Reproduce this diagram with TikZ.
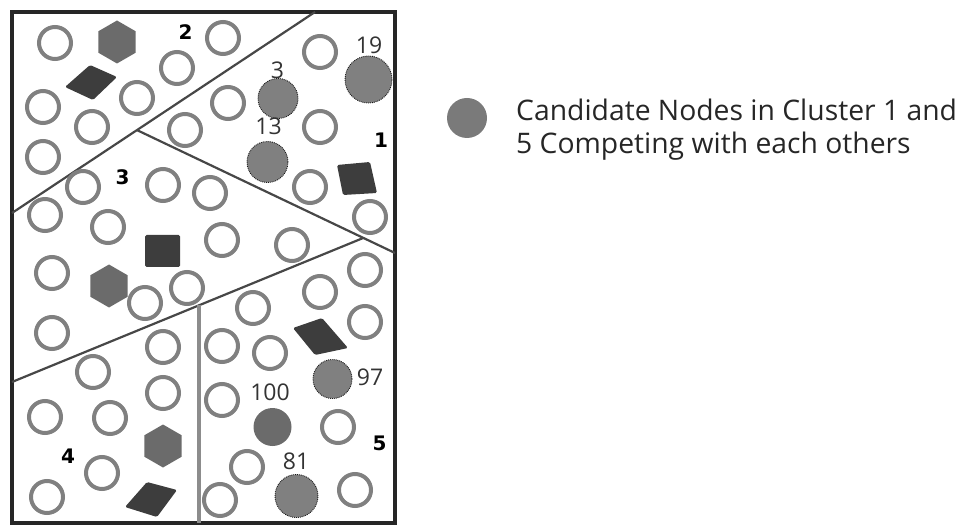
\documentclass[tikz,border=0pt]{standalone}
\usepackage{fontspec}
\setmainfont{Open Sans}
\newfontfamily\clusterfont{DejaVu Sans}
\usetikzlibrary{shapes.geometric}
\begin{document}
\begin{tikzpicture}[x=1pt,y=-1pt,
  ring/.style={draw=black!50,line width=4pt},
  cand/.style={circle,inner sep=0pt,fill=black!50,draw=black!90,densely dotted,line width=0.9pt},
  hexa/.style={regular polygon,regular polygon sides=6,regular polygon rotate=30,
    minimum size=43pt,inner sep=0pt,fill=black!58},
  quad/.style={fill=black!76,rounded corners=1.5pt},
  part/.style={draw=black!72,line width=2.2pt},
  divider/.style={draw=black!45,line width=3.5pt},
  frame/.style={draw=black!85,line width=4.5pt},
  cl/.style={inner sep=0pt,font=\clusterfont\bfseries\fontsize{20}{20}\selectfont},
  num/.style={inner sep=0pt,text=black!80,font=\fontsize{23}{23}\selectfont},
  legend/.style={inner sep=0pt,align=left,text=black!85,font=\fontsize{28.3}{33}\selectfont}]
\useasboundingbox (0,0) rectangle (957,526);

% outer field
\draw[frame] (12,12) rectangle (395,523);

% cluster boundaries
\coordinate (aT) at (315,12);
\coordinate (aL) at (12,213);
\coordinate (bS) at (137,130.1);
\coordinate (bR) at (395,253);
\coordinate (cS) at (363.4,237.9);
\coordinate (cL) at (12,382);
\coordinate (dT) at (199,305.3);
\coordinate (dB) at (199,523);
\draw[part] (aT) -- (aL);
\draw[part] (bS) -- (bR);
\draw[part] (cS) -- (cL);
\draw[divider] (dT) -- (dB);

% ordinary sensor nodes
\foreach \p in {(55,43),(223,38),(177,68),(43,107),(137,98),(92,127),(43,157),
  (185,130),(228,103),(320,52),(320,127),(310,187),(370,217),
  (83,187),(163,185),(210,193),(45,215),(108,227),(222,240),(292,245),
  (52,273),(145,303),(187,288),(52,333),
  (365,270),(320,292),(253,308),(365,322),(222,346),(270,353),(222,400),
  (338,427),(247,467),(220,500),(355,490),
  (163,347),(93,372),(163,393),(45,417),(110,418),(102,473),(47,497)}
  \draw[ring] \p circle[radius=16];

% hexagonal nodes
\node[hexa] (h2) at (117,42) {};
\node[hexa] (h3) at (109,286) {};
\node[hexa] (h4) at (163,446) {};

% cluster heads
\fill[quad] (65,87) -- (90,65) -- (117,77) -- (93,100) -- cycle;
\fill[quad] (337,165) -- (370,162) -- (377,193) -- (343,195) -- cycle;
\fill[quad] (145,235) rectangle (180,267);
\fill[quad] (293,328) -- (322,318) -- (348,348) -- (315,355) -- cycle;
\fill[quad] (147,482) -- (177,490) -- (157,517) -- (125,507) -- cycle;

% competing candidate nodes
\node[cand,minimum size=47pt] (c19) at (368.5,79.5) {};
\node[cand,minimum size=40pt] (c3) at (278,98.5) {};
\node[cand,minimum size=41pt] (c13) at (267.5,162) {};
\node[cand,minimum size=39pt] (c97) at (332.5,379) {};
\node[circle,inner sep=0pt,fill=black!58,minimum size=38pt] (c100) at (272.5,427) {};
\node[cand,minimum size=43pt] (c81) at (296.5,496) {};

\node[num] (n19) at (369,45.5) {19};
\node[num] (n3) at (277.5,70.5) {3};
\node[num] (n13) at (268.5,126.5) {13};
\node[num] (n97) at (370,377.5) {97};
\node[num] (n100) at (270,392.5) {100};
\node[num] (n81) at (296,461) {81};

% cluster numbers
\node[cl] (k1) at (381,140.5) {1};
\node[cl] (k2) at (185.5,32.5) {2};
\node[cl] (k3) at (122.5,177) {3};
\node[cl] (k4) at (68,456.5) {4};
\node[cl] (k5) at (379.5,443.5) {5};

% legend
\node[circle,inner sep=0pt,fill=black!52,minimum size=40pt] (key) at (467,118) {};
\node[legend,anchor=base west] (keytext) at (516,154)
  {Candidate Nodes in Cluster 1 and\\5 Competing with each others};
\end{tikzpicture}
\end{document}
